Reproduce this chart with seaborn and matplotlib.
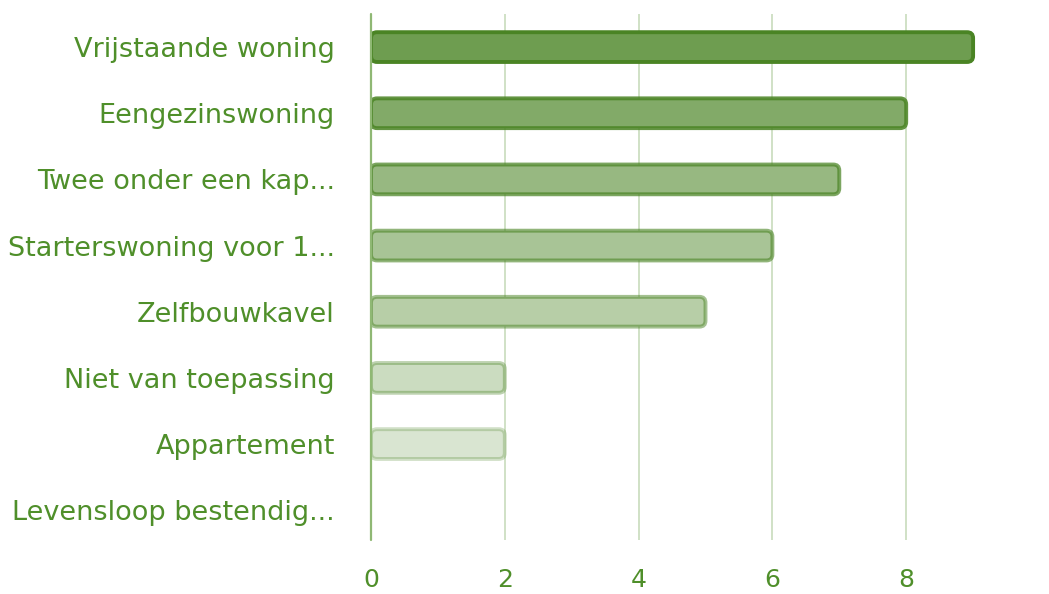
import matplotlib
matplotlib.use("Agg")
import matplotlib.pyplot as plt
import seaborn as sns
import pandas as pd
from matplotlib.patches import FancyBboxPatch
from matplotlib.colors import to_rgba

categories = ["Vrijstaande woning", "Eengezinswoning", "Twee onder een kap...",
              "Starterswoning voor 1...", "Zelfbouwkavel", "Niet van toepassing",
              "Appartement", "Levensloop bestendig..."]
values = [9, 8, 7, 6, 5, 2, 2, 0]
xticks = [0, 2, 4, 6, 8]

green = "#4a8424"
text_green = "#4f8f2a"
alphas = [1.0, 0.86, 0.72, 0.6, 0.5, 0.36, 0.26, 0.2]

sns.set_theme(style="white")
plt.rcParams['font.family'] = ['DejaVu Sans']

df = pd.DataFrame({"cat": categories, "val": values})
fig = plt.figure(figsize=(10.49, 5.94), dpi=100)
ax = fig.add_axes([371/1049, 54/594, (1040-371)/1049, (580-54)/594])

sns.barplot(data=df, y="cat", x="val", orient="h", ax=ax, width=0.45,
            color=green, saturation=1)

base = to_rgba(green)
for p, a in zip(ax.patches, alphas):
    x0, y0 = p.get_x(), p.get_y()
    w, h = p.get_width(), p.get_height()
    p.set_visible(False)
    if w <= 0:
        continue
    edge = (*base[:3], a)
    fill = tuple(1 - (1 - c) * a * 0.8 for c in base[:3])
    fb = FancyBboxPatch((x0 + 0.03, y0 + 0.03), w - 0.06, h - 0.06,
                        boxstyle="round,pad=0.03,rounding_size=0.09",
                        facecolor=fill, edgecolor=edge, linewidth=2.8,
                        mutation_aspect=1.0, zorder=3)
    ax.add_patch(fb)

ax.set_xlim(0, 10)
ax.set_ylim(7.45, -0.5)
ax.set_xticks(xticks)
ax.set_xticklabels([str(t) for t in xticks])
ax.set_xlabel("")
ax.set_ylabel("")
ax.grid(False)
for t in xticks[1:]:
    ax.axvline(t, color="#c8dcbc", linewidth=1.2, zorder=1)
ax.axvline(0, color="#8fb874", linewidth=1.6, zorder=4, clip_on=False)
for s in ax.spines.values():
    s.set_visible(False)
ax.tick_params(axis="x", length=0, pad=20, labelsize=18, labelcolor=text_green)
ax.tick_params(axis="y", length=0, pad=26, labelsize=19.5, labelcolor=text_green)

fig.savefig("out.png", dpi=100)
